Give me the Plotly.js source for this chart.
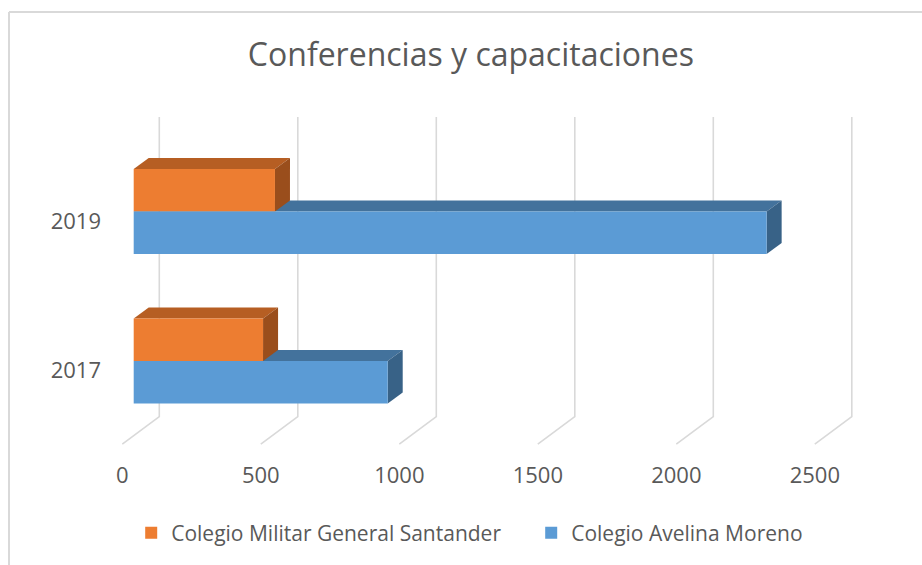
<!DOCTYPE html>
<html>
<head>
<meta charset="utf-8">
<script src="https://cdn.plot.ly/plotly-3.0.1.min.js"></script>
<style>html,body{margin:0;padding:0;background:#fff;}#chart{width:922px;height:565px;}</style>
</head>
<body>
<div id="chart"></div>
<script>
// ---- data ----
const years = ['2017', '2019'];
const seriesNames = ['Colegio Militar General Santander', 'Colegio Avelina Moreno'];
const militar = [467, 510];
const avelina = [917, 2285];
const xTicks = [0, 500, 1000, 1500, 2000, 2500];
const chartTitle = 'Conferencias y capacitaciones';

// ---- geometry / style ----
const W = 922, H = 565;
const mL = 102, mR = 0, mT = 0, mB = 0;
const pxPerUnit = 0.277;      // horizontal scale
const zeroPx = 133.7;         // value 0 on bar front plane
const pxPerCat = 149.5;       // vertical distance between categories
const cat0Px = 361;           // y px of first category centre
const plotW = W - mL - mR;

const xRange = [(mL - zeroPx) / pxPerUnit, (W - mR - zeroPx) / pxPerUnit];
const frontShiftPx = -11.4, backShiftPx = 25.6;
const x2Range = [(mL - zeroPx - frontShiftPx) / pxPerUnit, (W - mR - zeroPx - frontShiftPx) / pxPerUnit];
const yRange = [(cat0Px - H) / pxPerCat, cat0Px / pxPerCat];
const yOfPx = p => (cat0Px - p) / pxPerCat;

const barW = 42.5 / pxPerCat;
const dX = 15 / pxPerUnit, dY = 11 / pxPerCat;
const frontOff = frontShiftPx / pxPerUnit, backOff = backShiftPx / pxPerUnit;

const colors = {
  orange: '#ED7D31', orangeTop: '#B65E23', orangeSide: '#9A4E1C',
  blue: '#5B9BD5', blueTop: '#43729C', blueSide: '#386287',
  grid: '#D9D9D9', text: '#595959'
};
const fontFam = '"Open Sans", "Noto Sans", sans-serif';

const idx = years.map((_, i) => i);

const shapes = [];
// 3D-style gridlines: back wall vertical + floor diagonal
const yTop = yOfPx(117), yFloorBack = yOfPx(416.7), yFloorFront = yOfPx(444.2);
xTicks.forEach(v => {
  const bx = v + backOff, fx = v + frontOff;
  shapes.push({
    type: 'path', xref: 'x', yref: 'y', layer: 'below',
    path: `M${bx},${yTop} L${bx},${yFloorBack} L${fx},${yFloorFront}`,
    line: {color: colors.grid, width: 1.6}, fillcolor: 'rgba(0,0,0,0)'
  });
});

function addFaces(vals, offset, topCol, sideCol) {
  vals.forEach((v, i) => {
    const y0 = i + offset, y1 = i + offset + barW;
    shapes.push({
      type: 'path', xref: 'x', yref: 'y', layer: 'below',
      path: `M0,${y1} L${v},${y1} L${v + dX},${y1 + dY} L${dX},${y1 + dY} Z`,
      fillcolor: topCol, line: {width: 0}
    });
    shapes.push({
      type: 'path', xref: 'x', yref: 'y', layer: 'below',
      path: `M${v},${y0} L${v},${y1} L${v + dX},${y1 + dY} L${v + dX},${y0 + dY} Z`,
      fillcolor: sideCol, line: {width: 0}
    });
  });
}
addFaces(avelina, -barW, colors.blueTop, colors.blueSide);
addFaces(militar, 0, colors.orangeTop, colors.orangeSide);

// chart border (left and top)
const pxX = p => (p - mL) / plotW;
const pxY = p => (H - mB - p) / (H - mT - mB);
shapes.push({type: 'line', xref: 'paper', yref: 'paper', x0: pxX(9), x1: pxX(9), y0: pxY(12), y1: pxY(H + 5),
  line: {color: colors.grid, width: 2}});
shapes.push({type: 'line', xref: 'paper', yref: 'paper', x0: pxX(9), x1: pxX(W + 5), y0: pxY(12), y1: pxY(12),
  line: {color: colors.grid, width: 2}});

const traces = [
  {type: 'bar', orientation: 'h', name: seriesNames[0], x: militar, y: idx, legend: 'legend',
   width: barW, offset: 0, marker: {color: colors.orange, line: {width: 0}}, hoverinfo: 'x+name'},
  {type: 'bar', orientation: 'h', name: seriesNames[1], x: avelina, y: idx, legend: 'legend2',
   width: barW, offset: -barW, marker: {color: colors.blue, line: {width: 0}}, hoverinfo: 'x+name'},
  {type: 'scatter', mode: 'markers', x: xTicks, y: xTicks.map(() => null), xaxis: 'x2',
   showlegend: false, hoverinfo: 'skip', marker: {opacity: 0}}
];

const legendBase = {orientation: 'h', xanchor: 'left', yanchor: 'middle', y: pxY(533),
  font: {family: fontFam, size: 21, color: colors.text}, bgcolor: 'rgba(0,0,0,0)', borderwidth: 0};

const layout = {
  width: W, height: H,
  margin: {l: mL, r: mR, t: mT, b: mB, pad: 0, autoexpand: false},
  paper_bgcolor: '#fff', plot_bgcolor: 'rgba(0,0,0,0)',
  barmode: 'overlay',
  font: {family: fontFam, color: colors.text, size: 21},
  title: {text: chartTitle, xref: 'container', yref: 'container', x: 470.9 / W, y: 1 - 55 / H,
          xanchor: 'center', yanchor: 'middle', font: {family: fontFam, size: 32, color: colors.text}},
  xaxis: {range: xRange, showgrid: false, zeroline: false, showline: false, showticklabels: false,
          ticks: '', fixedrange: true},
  xaxis2: {overlaying: 'x', anchor: 'free', position: (H - 460) / H, side: 'bottom', range: x2Range,
           tickmode: 'array', tickvals: xTicks, ticktext: xTicks.map(String),
           showgrid: false, zeroline: false, showline: false, ticks: '',
           tickfont: {family: fontFam, size: 22, color: colors.text}, fixedrange: true},
  yaxis: {range: yRange, showgrid: false, zeroline: false, showline: false, ticks: '',
          tickmode: 'array', tickvals: idx.map(i => i - 0.064), ticktext: years,
          tickfont: {family: fontFam, size: 22, color: colors.text}, fixedrange: true},
  legend: Object.assign({}, legendBase, {x: pxX(131.2)}),
  legend2: Object.assign({}, legendBase, {x: pxX(531.2)}),
  shapes: shapes,
  showlegend: true
};

Plotly.newPlot('chart', traces, layout, {displayModeBar: false, staticPlot: true});
</script>
</body>
</html>
